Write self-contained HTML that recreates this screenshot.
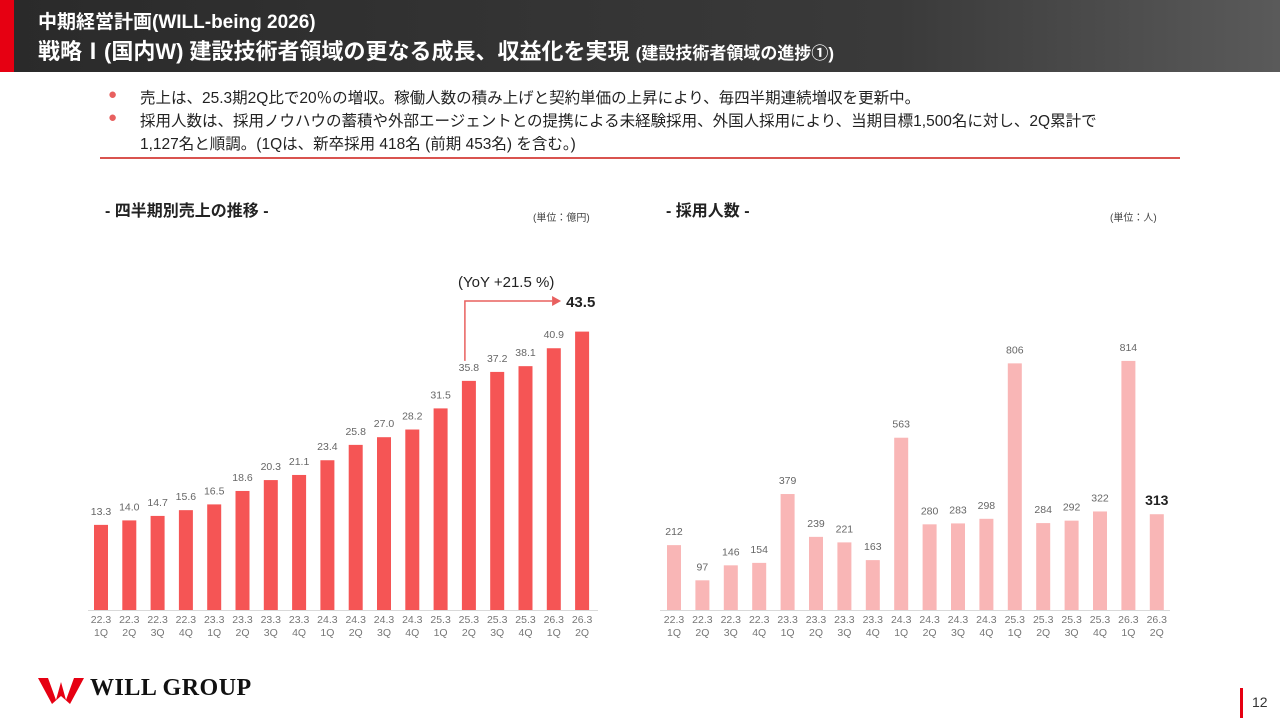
<!DOCTYPE html>
<html><head><meta charset="utf-8">
<style>
body{margin:0;width:1280px;height:720px;position:relative;background:#fff;font-family:"Liberation Sans","Noto Sans CJK JP",sans-serif;overflow:hidden}
.hdr{position:absolute;left:0;top:0;width:1280px;height:72px;background:linear-gradient(90deg,#2a2a2a 0%,#3a3a3a 70%,#5a5a5a 100%)}
.stripe{position:absolute;left:0;top:0;width:14px;height:72px;background:#e60012}
.t1{position:absolute;left:38px;top:7px;color:#fff;font-size:19px;font-weight:bold}
.t2{position:absolute;left:38px;top:34px;color:#fff;font-size:22px;font-weight:bold;white-space:nowrap}
.t2 small{font-size:17px}
.bul{position:absolute;left:108px;font-size:15.5px;color:#222;white-space:nowrap}
.bul .d{position:absolute;left:0;color:#e8605f;font-size:15px;top:0px}
.bul span.tx{position:absolute;left:32px}
.hr{position:absolute;left:100px;top:157px;width:1080px;height:2px;background:#d9534f}
.sec{position:absolute;font-size:16px;font-weight:bold;color:#222}
.unit{position:absolute;font-size:10px;color:#444}
svg text{font-family:"Liberation Sans",sans-serif}
</style></head><body>
<div class="hdr"></div>
<div class="stripe"></div>
<div class="t1">中期経営計画(WILL-being 2026)</div>
<div class="t2">戦略Ⅰ(国内W) 建設技術者領域の更なる成長、収益化を実現 <small>(建設技術者領域の進捗①)</small></div>
<div class="bul" style="top:86px"><span class="d">●</span><span class="tx">売上は、25.3期2Q比で20％の増収。稼働人数の積み上げと契約単価の上昇により、毎四半期連続増収を更新中。</span></div>
<div class="bul" style="top:109px"><span class="d">●</span><span class="tx">採用人数は、採用ノウハウの蓄積や外部エージェントとの提携による未経験採用、外国人採用により、当期目標1,500名に対し、2Q累計で</span></div>
<div class="bul" style="top:132px"><span class="tx">1,127名と順調。(1Qは、新卒採用 418名 (前期 453名) を含む。)</span></div>
<div class="hr"></div>
<div class="sec" style="left:105px;top:197px">- 四半期別売上の推移 -</div>
<div class="unit" style="left:533px;top:209px">(単位：億円)</div>
<div class="sec" style="left:666px;top:197px">- 採用人数 -</div>
<div class="unit" style="left:1110px;top:209px">(単位：人)</div>
<svg id="ch" width="1280" height="720" style="position:absolute;left:0;top:0"></svg>
<div style="position:absolute;left:36px;top:672px;width:230px;height:34px">
<svg width="50" height="34" style="position:absolute;left:0;top:0"><path d="M2 6 L12 6 L20 28 L25 10 L30 28 L38 6 L48 6 L34 32 L25 24 L16 32 Z" fill="#e60012"/></svg>
<span style="position:absolute;left:54px;top:3px;font-family:'Liberation Serif',serif;font-weight:bold;font-size:24px;color:#111;letter-spacing:0.5px">WILL GROUP</span></div>
<div style="position:absolute;left:1240px;top:688px;width:3px;height:30px;background:#e60012"></div>
<div style="position:absolute;left:1252px;top:694px;font-size:14px;color:#333">12</div>
<script>
const cats=["22.3|1Q","22.3|2Q","22.3|3Q","22.3|4Q","23.3|1Q","23.3|2Q","23.3|3Q","23.3|4Q","24.3|1Q","24.3|2Q","24.3|3Q","24.3|4Q","25.3|1Q","25.3|2Q","25.3|3Q","25.3|4Q","26.3|1Q","26.3|2Q"];
const sales=[13.3,14.0,14.7,15.6,16.5,18.6,20.3,21.1,23.4,25.8,27.0,28.2,31.5,35.8,37.2,38.1,40.9,43.5];
const hires=[212,97,146,154,379,239,221,163,563,280,283,298,806,284,292,322,814,313];
const svg=document.getElementById('ch');
const NS='http://www.w3.org/2000/svg';
function el(t,a,txt){const e=document.createElementNS(NS,t);for(const k in a)e.setAttribute(k,a[k]);if(txt!=null)e.textContent=txt;svg.appendChild(e);return e;}
const base=610;
function drawChart(x0,step,scale,vals,color,fmt,prefix,axisL,axisR){
  const ax=el('line',{x1:axisL,x2:axisR,y1:base+0.5,y2:base+0.5,stroke:'#d9d9d9','stroke-width':1});
  
  
  vals.forEach((v,i)=>{
    const cx=x0+i*step, h=v*scale, last=i===vals.length-1;
    const r=el('rect',{x:cx-7,y:base-h,width:14,height:h,fill:color});
    
    
    if(!(last&&prefix==='sales')){
      const t=el('text',{x:cx,y:base-h-(last?9:10),'text-anchor':'middle','font-size':last?14:10.5,fill:last?'#222':'#666','font-weight':last?'bold':'normal'},fmt(v));
      
      
    }
    const [a,b]=cats[i].split('|');
    const l1=el('text',{x:cx,y:base+13,'text-anchor':'middle','font-size':10.5,fill:'#777'},a);
    
    
    const l2=el('text',{x:cx,y:base+26,'text-anchor':'middle','font-size':10.5,fill:'#777'},b);
    
    
  });
}
const sScale=6.4, sx0=101, sstep=28.3;
drawChart(sx0,sstep,sScale,sales,'#f55555',v=>v.toFixed(1),'sales',88,598);
drawChart(674,28.4,0.306,hires,'#f9b6b6',v=>String(v),'hires',660,1170);
const i1=13, n=sales.length-1;
const ax1=sx0+i1*sstep-4, ay=301, ax2=sx0+n*sstep-30;
const p=el('path',{d:`M${ax1} ${base-sales[i1]*sScale-20} L${ax1} ${ay} L${ax2} ${ay}`,fill:'none',stroke:'#e8605f','stroke-width':1.5});


const ah=el('path',{d:`M${ax2} ${ay-5} L${ax2+9} ${ay} L${ax2} ${ay+5} Z`,fill:'#e8605f'});


const yl=el('text',{x:458,y:287,'font-size':15,fill:'#222'},'(YoY +21.5 %)');


const lv=el('text',{x:ax2+14,y:ay+6,'font-size':15,'font-weight':'bold',fill:'#222'},sales[n].toFixed(1));


</script>
</body></html>
